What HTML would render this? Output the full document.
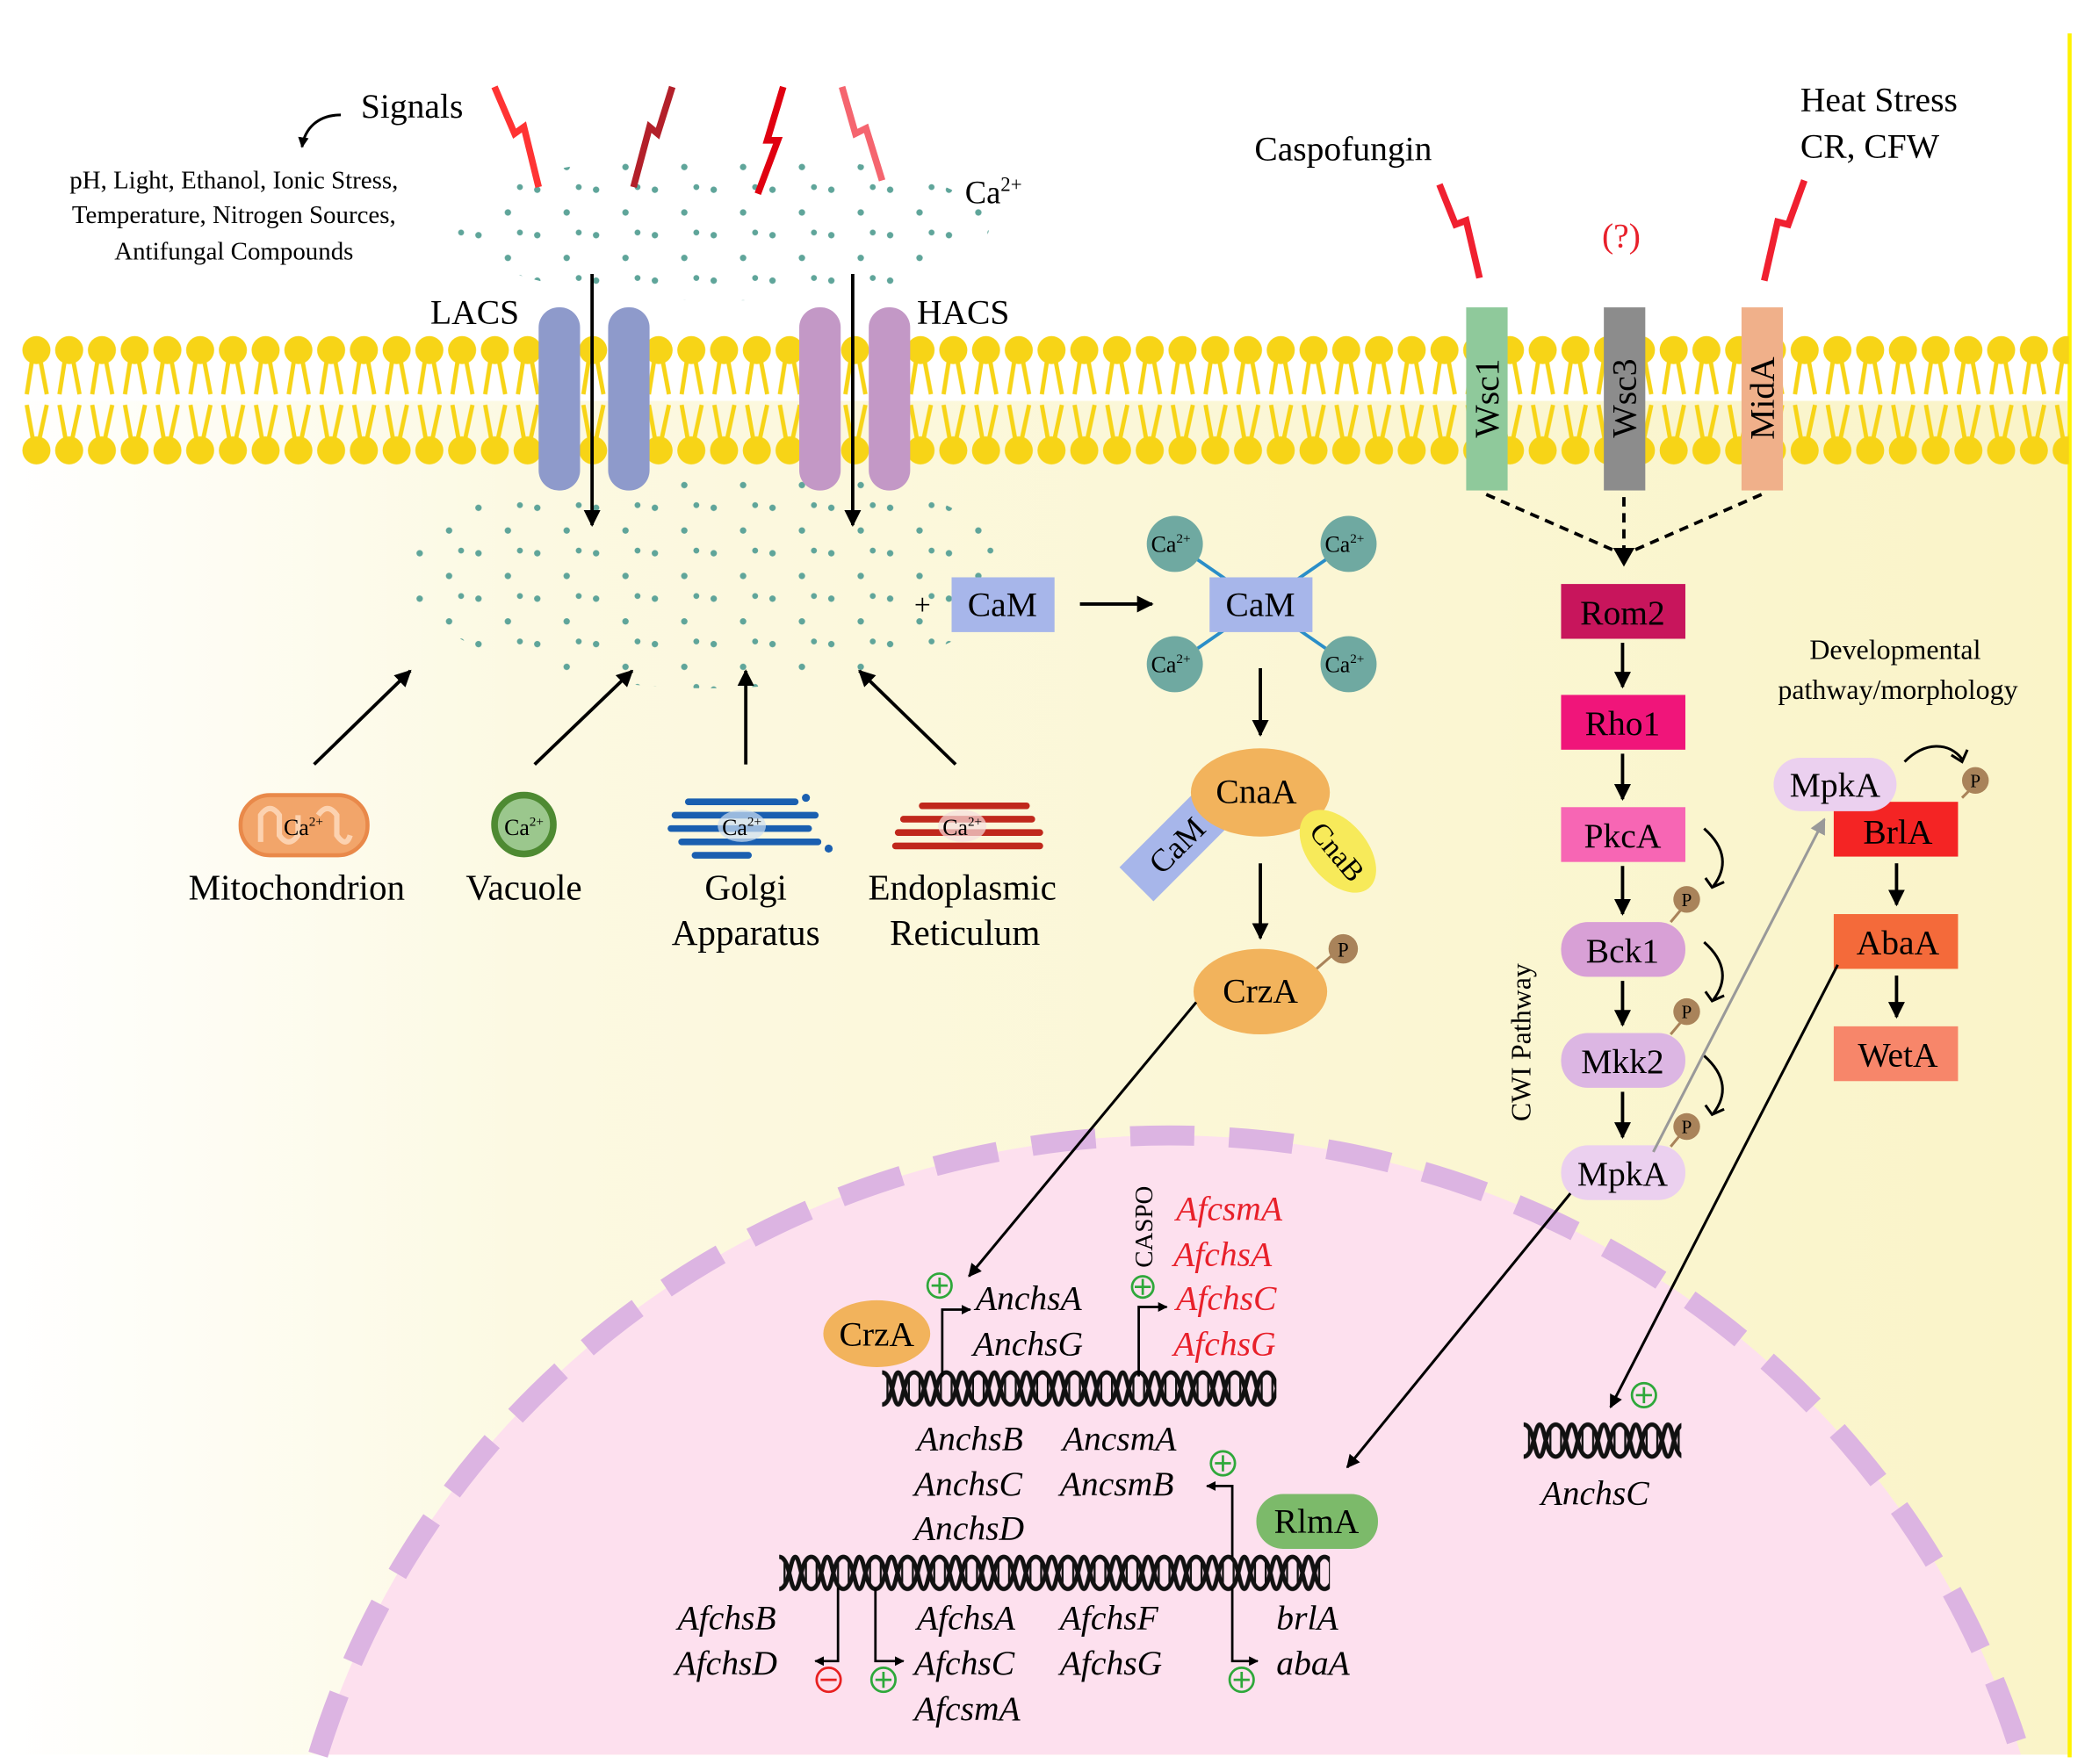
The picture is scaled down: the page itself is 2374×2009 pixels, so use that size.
<!DOCTYPE html>
<html><head><meta charset="utf-8"><style>
html,body{margin:0;padding:0;background:#fff;width:2374px;height:2009px;overflow:hidden}
svg{display:block}
text{font-family:"Liberation Serif",serif}
</style></head><body>
<svg width="2374" height="2009" viewBox="0 0 1560 1320" preserveAspectRatio="none" xmlns="http://www.w3.org/2000/svg">
<defs>
<linearGradient id="bg" x1="0" y1="0" x2="1" y2="0">
<stop offset="0" stop-color="#ffffff"/><stop offset="0.25" stop-color="#fcf9e2"/><stop offset="1" stop-color="#faf4c8"/>
</linearGradient>
<pattern id="lipid" x="15" y="245" width="24.5" height="105" patternUnits="userSpaceOnUse">
<g stroke="#f7d417" stroke-width="3.2" fill="none">
<line x1="10" y1="18" x2="5" y2="50"/><line x1="14" y1="18" x2="20" y2="50"/>
<line x1="5" y1="58" x2="10" y2="86"/><line x1="20" y1="58" x2="14" y2="86"/>
</g>
<circle cx="12.25" cy="17" r="10.5" fill="#f7d417"/>
<circle cx="12.25" cy="92" r="10.5" fill="#f7d417"/>
</pattern>
<pattern id="dots" x="0" y="0" width="44" height="34" patternUnits="userSpaceOnUse">
<circle cx="6" cy="6" r="2.4" fill="#5fa59a"/><circle cx="28" cy="23" r="2.4" fill="#5fa59a"/><circle cx="37" cy="4" r="2.2" fill="#5fa59a"/>
</pattern>
<g id="dnaunit">
<g stroke="#111" stroke-width="3.2" fill="none">
<path d="M0,3 C8,3 8,27 12,27 C16,27 16,3 24,3"/>
<path d="M0,27 C8,27 8,3 12,3 C16,3 16,27 24,27"/>
</g>
<g stroke="#111" stroke-width="1.5"><line x1="4" y1="7" x2="4" y2="23"/><line x1="20" y1="7" x2="20" y2="23"/></g>
</g>
<pattern id="dna1" x="660" y="1024" width="24" height="30" patternUnits="userSpaceOnUse"><use href="#dnaunit"/></pattern>
<pattern id="dna2" x="583" y="1162" width="24" height="30" patternUnits="userSpaceOnUse"><use href="#dnaunit"/></pattern>
<pattern id="dna3" x="1140" y="1063" width="24" height="30" patternUnits="userSpaceOnUse"><use href="#dnaunit"/></pattern>
<marker id="ah" viewBox="0 0 10 10" refX="9" refY="5" markerWidth="5" markerHeight="5" orient="auto"><path d="M0,0 L10,5 L0,10 z" fill="#000"/></marker>
<marker id="ahs" viewBox="0 0 10 10" refX="9" refY="5" markerWidth="4" markerHeight="4" orient="auto"><path d="M0,0 L10,5 L0,10 z" fill="#000"/></marker>
<marker id="ahg" viewBox="0 0 10 10" refX="9" refY="5" markerWidth="6" markerHeight="6" orient="auto"><path d="M0,0 L10,5 L0,10 z" fill="#999"/></marker>
<clipPath id="c1"><ellipse cx="540" cy="170" rx="200" ry="55"/></clipPath>
<clipPath id="c2"><ellipse cx="530" cy="430" rx="225" ry="85"/></clipPath>
</defs>

<rect x="0" y="300" width="1550" height="1013" fill="url(#bg)"/>
<rect x="1547" y="25" width="3" height="1290" fill="#fff200"/>

<path d="M238,1313 A665,650 0 0 1 1512,1313 Z" fill="#fde0ee"/>
<path d="M238,1313 A665,650 0 0 1 1512,1313" fill="none" stroke="#dcb4e2" stroke-width="15" stroke-dasharray="48 26"/>

<rect x="15" y="245" width="1533" height="105" fill="url(#lipid)"/>

<rect x="300" y="110" width="480" height="130" fill="url(#dots)" clip-path="url(#c1)"/>
<rect x="300" y="350" width="480" height="170" fill="url(#dots)" clip-path="url(#c2)"/>

<text x="270" y="88" font-size="26">Signals</text>
<path d="M255,86 C238,86 228,96 226,110" stroke="#000" stroke-width="2" fill="none" marker-end="url(#ahs)"/>
<g font-size="19" text-anchor="middle">
<text x="175" y="141">pH, Light, Ethanol, Ionic Stress,</text>
<text x="175" y="167">Temperature, Nitrogen Sources,</text>
<text x="175" y="194">Antifungal Compounds</text>
</g>
<text x="722" y="152" font-size="24">Ca<tspan font-size="15" dy="-9">2+</tspan></text>

<g fill="none" stroke-width="5" stroke-linejoin="miter">
<path d="M370,65 L385,100 L392,95 L403,140" stroke="#f33"/>
<path d="M503,65 L492,100 L486,95 L474,140" stroke="#b3202a"/>
<path d="M586,65 L574,105 L582,105 L567,145" stroke="#e00010"/>
<path d="M630,65 L640,100 L648,96 L660,135" stroke="#f5656f"/>
<path d="M1077,138 L1089,168 L1097,165 L1107,208" stroke="#f02030"/>
<path d="M1350,135 L1338,168 L1330,166 L1320,210" stroke="#f02030"/>
</g>

<text x="322" y="242" font-size="26">LACS</text>
<text x="686" y="242" font-size="26">HACS</text>
<rect x="403" y="230" width="31" height="137" rx="15" fill="#8e9acb"/>
<rect x="455" y="230" width="31" height="137" rx="15" fill="#8e9acb"/>
<rect x="598" y="230" width="31" height="137" rx="15" fill="#c398c6"/>
<rect x="650" y="230" width="31" height="137" rx="15" fill="#c398c6"/>
<line x1="443" y1="205" x2="443" y2="393" stroke="#000" stroke-width="2.5" marker-end="url(#ah)"/>
<line x1="638" y1="205" x2="638" y2="393" stroke="#000" stroke-width="2.5" marker-end="url(#ah)"/>

<g stroke="#000" stroke-width="2.5" marker-end="url(#ah)">
<line x1="235" y1="572" x2="307" y2="502"/>
<line x1="400" y1="572" x2="473" y2="502"/>
<line x1="558" y1="572" x2="558" y2="502"/>
<line x1="715" y1="572" x2="643" y2="502"/>
</g>
<rect x="180" y="595" width="95" height="45" rx="22" fill="#f2a56a" stroke="#e9894a" stroke-width="3"/>
<path d="M195,630 v-20 q7,-10 14,0 v15 q7,10 14,0 v-15 M238,610 q7,-10 14,0 v15 q7,10 10,0" stroke="#fcd2b0" stroke-width="4" fill="none"/>
<text x="227" y="625" font-size="17" text-anchor="middle">Ca<tspan font-size="10" dy="-7">2+</tspan></text>
<circle cx="392" cy="617" r="22" fill="#9bc78d" stroke="#4e8a32" stroke-width="5"/>
<text x="392" y="625" font-size="17" text-anchor="middle">Ca<tspan font-size="10" dy="-7">2+</tspan></text>
<g stroke="#1a5fb0" stroke-width="5" stroke-linecap="round">
<line x1="515" y1="600" x2="595" y2="600"/><line x1="505" y1="610" x2="610" y2="610"/><line x1="502" y1="620" x2="605" y2="620"/><line x1="510" y1="630" x2="612" y2="630"/><line x1="520" y1="640" x2="560" y2="640"/>
</g>
<circle cx="603" cy="597" r="3" fill="#1a5fb0"/><circle cx="620" cy="635" r="3" fill="#1a5fb0"/>
<ellipse cx="555" cy="618" rx="18" ry="12" fill="#cfe0f2" opacity="0.7"/>
<text x="555" y="625" font-size="17" text-anchor="middle">Ca<tspan font-size="10" dy="-7">2+</tspan></text>
<g stroke="#c0281c" stroke-width="5" stroke-linecap="round">
<line x1="690" y1="603" x2="768" y2="603"/><line x1="676" y1="613" x2="772" y2="613"/><line x1="672" y1="623" x2="778" y2="623"/><line x1="670" y1="633" x2="778" y2="633"/>
</g>
<ellipse cx="720" cy="618" rx="18" ry="12" fill="#f6dede" opacity="0.7"/>
<text x="720" y="625" font-size="17" text-anchor="middle">Ca<tspan font-size="10" dy="-7">2+</tspan></text>
<g font-size="27" text-anchor="middle">
<text x="222" y="673">Mitochondrion</text>
<text x="392" y="673">Vacuole</text>
<text x="558" y="673">Golgi</text>
<text x="558" y="707">Apparatus</text>
<text x="720" y="673">Endoplasmic</text>
<text x="722" y="707">Reticulum</text>
</g>

<text x="684" y="460" font-size="22">+</text>
<rect x="712" y="432" width="77" height="41" fill="#a7b6ea"/>
<text x="750" y="461" font-size="26" text-anchor="middle">CaM</text>
<line x1="808" y1="452" x2="862" y2="452" stroke="#000" stroke-width="2.5" marker-end="url(#ah)"/>
<g stroke="#2a8ec8" stroke-width="2.5">
<line x1="879" y1="407" x2="1009" y2="497"/><line x1="1009" y1="407" x2="879" y2="497"/>
</g>
<rect x="905" y="432" width="77" height="41" fill="#a7b6ea"/>
<text x="943" y="461" font-size="26" text-anchor="middle">CaM</text>
<g fill="#6fa9a1">
<circle cx="879" cy="407" r="21"/><circle cx="1009" cy="407" r="21"/><circle cx="879" cy="497" r="21"/><circle cx="1009" cy="497" r="21"/>
</g>
<g font-size="17" text-anchor="middle">
<text x="876" y="413">Ca<tspan font-size="10" dy="-7">2+</tspan></text>
<text x="1006" y="413">Ca<tspan font-size="10" dy="-7">2+</tspan></text>
<text x="876" y="503">Ca<tspan font-size="10" dy="-7">2+</tspan></text>
<text x="1006" y="503">Ca<tspan font-size="10" dy="-7">2+</tspan></text>
</g>
<line x1="943" y1="500" x2="943" y2="550" stroke="#000" stroke-width="2.5" marker-end="url(#ah)"/>
<g transform="translate(880,632) rotate(-45)">
<rect x="-42" y="-18" width="84" height="36" fill="#a7b6ea"/>
<text x="0" y="9" font-size="24" text-anchor="middle">CaM</text>
</g>
<ellipse cx="943" cy="593" rx="52" ry="33" fill="#f2b35c"/>
<text x="940" y="601" font-size="26" text-anchor="middle">CnaA</text>
<g transform="translate(1001,637) rotate(50)">
<ellipse cx="0" cy="0" rx="36" ry="22" fill="#f7ea5a"/>
<text x="0" y="8" font-size="22" text-anchor="middle">CnaB</text>
</g>
<line x1="943" y1="646" x2="943" y2="702" stroke="#000" stroke-width="2.5" marker-end="url(#ah)"/>
<line x1="985" y1="725" x2="1000" y2="712" stroke="#a9835a" stroke-width="2"/>
<circle cx="1005" cy="710" r="11" fill="#a9835a"/><text x="1005" y="716" font-size="15" text-anchor="middle">P</text>
<ellipse cx="943" cy="742" rx="50" ry="32" fill="#f2b35c"/>
<text x="943" y="750" font-size="26" text-anchor="middle">CrzA</text>
<line x1="895" y1="750" x2="725" y2="955" stroke="#000" stroke-width="2" marker-end="url(#ah)"/>

<text x="1005" y="120" font-size="26" text-anchor="middle">Caspofungin</text>
<text x="1213" y="185" font-size="26" fill="#e8202a" text-anchor="middle">(?)</text>
<text x="1347" y="83" font-size="26">Heat Stress</text>
<text x="1347" y="118" font-size="26">CR, CFW</text>
<rect x="1097" y="230" width="31" height="137" fill="#8fc99b"/>
<rect x="1200" y="230" width="31" height="137" fill="#8c8c8c"/>
<rect x="1303" y="230" width="31" height="137" fill="#f0b08a"/>
<g font-size="26" text-anchor="middle">
<text transform="translate(1121,298) rotate(-90)">Wsc1</text>
<text transform="translate(1224,298) rotate(-90)">Wsc3</text>
<text transform="translate(1327,298) rotate(-90)">MidA</text>
</g>
<g stroke="#000" stroke-width="2.5" stroke-dasharray="7 5" fill="none">
<line x1="1112" y1="370" x2="1208" y2="412"/>
<line x1="1318" y1="370" x2="1222" y2="412"/>
<line x1="1215" y1="372" x2="1215" y2="410"/>
</g>
<path d="M1207,410 L1223,410 L1215,424 z" fill="#000"/>
<rect x="1168" y="437" width="93" height="41" fill="#c8155c"/>
<text x="1214" y="467" font-size="26" text-anchor="middle">Rom2</text>
<rect x="1168" y="520" width="93" height="41" fill="#f0157a"/>
<text x="1214" y="550" font-size="26" text-anchor="middle">Rho1</text>
<rect x="1168" y="604" width="93" height="41" fill="#f766b4"/>
<text x="1214" y="634" font-size="26" text-anchor="middle">PkcA</text>
<rect x="1168" y="690" width="93" height="41" rx="20" fill="#d8a0d6"/>
<text x="1214" y="720" font-size="26" text-anchor="middle">Bck1</text>
<rect x="1168" y="773" width="93" height="41" rx="20" fill="#dcb6e3"/>
<text x="1214" y="803" font-size="26" text-anchor="middle">Mkk2</text>
<rect x="1168" y="857" width="93" height="41" rx="20" fill="#ebd0ef"/>
<text x="1214" y="887" font-size="26" text-anchor="middle">MpkA</text>
<g stroke="#000" stroke-width="2.5" marker-end="url(#ah)">
<line x1="1214" y1="481" x2="1214" y2="514"/>
<line x1="1214" y1="564" x2="1214" y2="598"/>
<line x1="1214" y1="648" x2="1214" y2="684"/>
<line x1="1214" y1="734" x2="1214" y2="767"/>
<line x1="1214" y1="817" x2="1214" y2="851"/>
</g>
<g fill="none" stroke="#000" stroke-width="2">
<path d="M1275,620 C1292,635 1292,650 1282,663"/><path d="M1276,657 L1281,664 L1290,660"/>
<path d="M1275,705 C1292,720 1292,735 1282,748"/><path d="M1276,742 L1281,749 L1290,745"/>
<path d="M1275,790 C1292,805 1292,820 1282,833"/><path d="M1276,827 L1281,834 L1290,830"/>
</g>
<g>
<line x1="1250" y1="690" x2="1260" y2="678" stroke="#a9835a" stroke-width="2"/>
<line x1="1250" y1="774" x2="1260" y2="762" stroke="#a9835a" stroke-width="2"/>
<line x1="1250" y1="858" x2="1260" y2="846" stroke="#a9835a" stroke-width="2"/>
<circle cx="1262" cy="673" r="10" fill="#a9835a"/><circle cx="1262" cy="757" r="10" fill="#a9835a"/><circle cx="1262" cy="843" r="10" fill="#a9835a"/>
<g font-size="14" text-anchor="middle"><text x="1262" y="678">P</text><text x="1262" y="762">P</text><text x="1262" y="848">P</text></g>
</g>
<text transform="translate(1145,780) rotate(-90)" font-size="21" text-anchor="middle">CWI Pathway</text>
<text x="1418" y="493" font-size="21" text-anchor="middle">Developmental</text>
<text x="1420" y="523" font-size="21" text-anchor="middle">pathway/morphology</text>
<line x1="1237" y1="862" x2="1365" y2="613" stroke="#999" stroke-width="2" marker-end="url(#ahg)"/>
<rect x="1372" y="600" width="93" height="41" fill="#f42424"/>
<text x="1420" y="631" font-size="26" text-anchor="middle">BrlA</text>
<rect x="1327" y="567" width="92" height="40" rx="20" fill="#ebd0ef"/>
<text x="1373" y="596" font-size="26" text-anchor="middle">MpkA</text>
<path d="M1425,570 C1440,555 1458,555 1468,568" stroke="#000" stroke-width="2" fill="none"/>
<path d="M1460,565 L1468,570 L1472,561" stroke="#000" stroke-width="2" fill="none"/>
<line x1="1468" y1="597" x2="1475" y2="590" stroke="#a9835a" stroke-width="2"/>
<circle cx="1478" cy="584" r="10" fill="#a9835a"/><text x="1478" y="589" font-size="14" text-anchor="middle">P</text>
<line x1="1419" y1="646" x2="1419" y2="677" stroke="#000" stroke-width="2.5" marker-end="url(#ah)"/>
<rect x="1372" y="684" width="93" height="41" fill="#f46a3a"/>
<text x="1420" y="714" font-size="26" text-anchor="middle">AbaA</text>
<line x1="1419" y1="730" x2="1419" y2="761" stroke="#000" stroke-width="2.5" marker-end="url(#ah)"/>
<rect x="1372" y="768" width="93" height="41" fill="#f7866a"/>
<text x="1420" y="798" font-size="26" text-anchor="middle">WetA</text>
<line x1="1175" y1="893" x2="1008" y2="1098" stroke="#000" stroke-width="2" marker-end="url(#ah)"/>
<line x1="1375" y1="722" x2="1205" y2="1053" stroke="#000" stroke-width="2" marker-end="url(#ah)"/>

<rect x="660" y="1024" width="295" height="30" fill="url(#dna1)"/>
<rect x="583" y="1162" width="412" height="30" fill="url(#dna2)"/>
<rect x="1140" y="1063" width="118" height="30" fill="url(#dna3)"/>

<ellipse cx="656" cy="998" rx="40" ry="25" fill="#f2b35c"/>
<text x="656" y="1007" font-size="26" text-anchor="middle">CrzA</text>
<rect x="940" y="1118" width="91" height="41" rx="20" fill="#7cba6a"/>
<text x="985" y="1147" font-size="26" text-anchor="middle">RlmA</text>

<g stroke="#000" stroke-width="1.8" fill="none" marker-end="url(#ahs)">
<path d="M705,1030 V980 H726"/>
<path d="M852,1030 V978 H873"/>
<path d="M922,1165 V1112 H903"/>
<path d="M627,1188 V1243 H610"/>
<path d="M655,1188 V1243 H676"/>
<path d="M922,1188 V1243 H941"/>
</g>
<g fill="none" stroke-width="1.8">
<g stroke="#2ea83a">
<circle cx="703" cy="962" r="9"/><path d="M697,962 h12 M703,956 v12"/>
<circle cx="855" cy="963" r="8"/><path d="M849,963 h12 M855,957 v12"/>
<circle cx="915" cy="1095" r="9"/><path d="M909,1095 h12 M915,1089 v12"/>
<circle cx="661" cy="1257" r="9"/><path d="M655,1257 h12 M661,1251 v12"/>
<circle cx="929" cy="1257" r="9"/><path d="M923,1257 h12 M929,1251 v12"/>
<circle cx="1230" cy="1044" r="9"/><path d="M1224,1044 h12 M1230,1038 v12"/>
</g>
<g stroke="#e82020"><circle cx="620" cy="1257" r="9"/><path d="M614,1257 h12"/></g>
</g>
<text transform="translate(862,918) rotate(-90)" font-size="19" text-anchor="middle">CASPO</text>
<g font-size="26" font-style="italic">
<text x="730" y="980">AnchsA</text>
<text x="728" y="1014">AnchsG</text>
<g fill="#e8202a">
<text x="880" y="913">AfcsmA</text>
<text x="878" y="947">AfchsA</text>
<text x="880" y="980">AfchsC</text>
<text x="878" y="1014">AfchsG</text>
</g>
<text x="686" y="1085">AnchsB</text>
<text x="795" y="1085">AncsmA</text>
<text x="684" y="1119">AnchsC</text>
<text x="793" y="1119">AncsmB</text>
<text x="684" y="1152">AnchsD</text>
<text x="507" y="1219">AfchsB</text>
<text x="505" y="1253">AfchsD</text>
<text x="686" y="1219">AfchsA</text>
<text x="684" y="1253">AfchsC</text>
<text x="684" y="1287">AfcsmA</text>
<text x="793" y="1219">AfchsF</text>
<text x="793" y="1253">AfchsG</text>
<text x="955" y="1219">brlA</text>
<text x="955" y="1253">abaA</text>
<text x="1153" y="1126">AnchsC</text>
</g>
</svg>
</body></html>
